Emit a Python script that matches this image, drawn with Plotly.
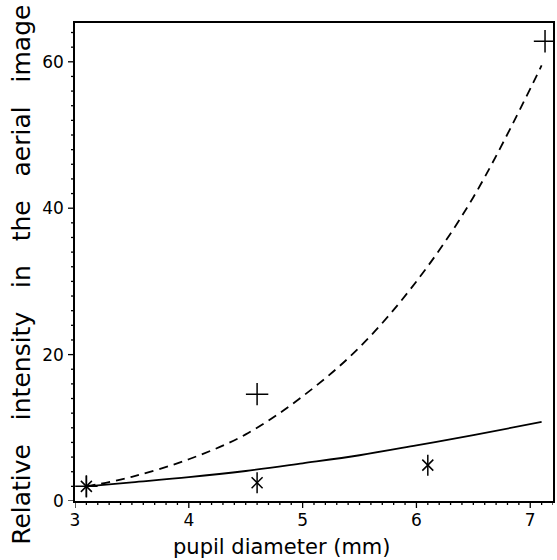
import plotly.graph_objects as go

# measured data points
x_star = [3.1, 4.6, 6.1]
y_star = [2.0, 2.5, 4.9]
x_plus = [3.1, 4.6, 7.13]
y_plus = [2.0, 14.6, 62.8]

# curves
x_curve = [3.1, 3.5, 4.0, 4.5, 5.0, 5.5, 6.0, 6.5, 7.1]
y_solid = [2.0, 2.55, 3.25, 4.1, 5.15, 6.25, 7.6, 9.0, 10.8]
y_dashed = [2.0, 3.3, 5.7, 9.1, 14.3, 21.0, 30.0, 41.5, 59.5]

x_range = [3, 7.2]
y_range = [0, 65.3]
x_major = [3, 4, 5, 6, 7]
y_major = [0, 20, 40, 60]
x_minor = [round(3 + 0.1 * i, 1) for i in range(43)]
y_minor = list(range(0, 66, 2))

FONT = "DejaVu Sans"
SP = "\u00a0" * 3

fig = go.Figure()
fig.add_trace(go.Scatter(x=x_curve, y=y_solid, mode="lines", line=dict(color="black", width=1.8, shape="spline"), showlegend=False))
fig.add_trace(go.Scatter(x=x_curve, y=y_dashed, mode="lines", line=dict(color="black", width=1.8, dash="9px,6px", shape="spline"), showlegend=False))
fig.add_trace(go.Scatter(x=x_plus, y=y_plus, mode="markers",
                         marker=dict(symbol="cross-thin-open", size=16, color="black", line=dict(color="black", width=1.5)), showlegend=False))
fig.add_trace(go.Scatter(x=x_star, y=y_star, mode="markers",
                         marker=dict(symbol="x-thin-open", size=11, color="black", line=dict(color="black", width=1.5)), showlegend=False))
fig.add_trace(go.Scatter(x=x_star, y=y_star, mode="markers",
                         marker=dict(symbol="line-ns-open", size=15, color="black", line=dict(color="black", width=1.5)), showlegend=False))

# tick marks as pixel-sized shapes anchored at the axis tick values
shapes = []
for v in x_minor:
    L = 7 if v in x_major else 4
    shapes.append(dict(type="line", xref="x", yref="paper", ysizemode="pixel", yanchor=0,
                       x0=v, x1=v, y0=0, y1=-L, line=dict(color="black", width=1.3), layer="above"))
for v in y_minor:
    L = 7 if v in y_major else 4
    shapes.append(dict(type="line", yref="y", xref="paper", xsizemode="pixel", xanchor=0,
                       y0=v, y1=v, x0=0, x1=-L, line=dict(color="black", width=1.3), layer="above"))

fig.update_layout(
    template="none",
    width=557, height=560,
    margin=dict(l=75, r=4, t=23, b=59),
    paper_bgcolor="white", plot_bgcolor="white",
    font=dict(family=FONT, color="black"),
    shapes=shapes,
    xaxis=dict(
        range=x_range, tickmode="array", tickvals=x_major, ticktext=[str(v) for v in x_major],
        ticks="", ticklabelstandoff=3,
        showline=True, linecolor="black", linewidth=1.5, mirror=True, showgrid=False, zeroline=False,
        tickfont=dict(size=17, family=FONT, color="black"),
    ),
    yaxis=dict(
        range=y_range, tickmode="array", tickvals=y_major, ticktext=[str(v) for v in y_major],
        ticks="", ticklabelstandoff=6,
        showline=True, linecolor="black", linewidth=1.5, mirror=True, showgrid=False, zeroline=False,
        tickfont=dict(size=17, family=FONT, color="black"),
    ),
    annotations=[
        dict(text=f"Relative{SP}intensity{SP}in{SP}the{SP}aerial{SP}image",
             xref="paper", yref="paper", x=-0.111, y=0.473, xanchor="center", yanchor="middle",
             textangle=-90, showarrow=False, font=dict(size=25, family=FONT, color="black")),
        dict(text="pupil diameter (mm)",
             xref="paper", yref="paper", x=0.433, y=-0.096, xanchor="center", yanchor="middle",
             showarrow=False, font=dict(size=21, family=FONT, color="black")),
    ],
)
fig.write_html("out.html")
